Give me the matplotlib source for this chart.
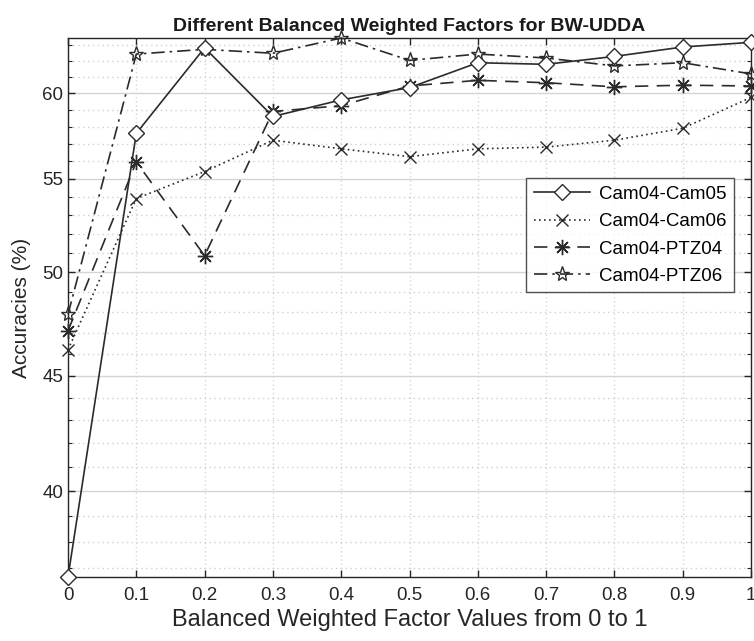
import matplotlib
matplotlib.use("Agg")
import matplotlib.pyplot as plt
from matplotlib.ticker import FixedLocator, NullFormatter, FixedFormatter

plt.rcParams['font.family'] = ['Liberation Sans', 'DejaVu Sans']

x = [0, 0.1, 0.2, 0.3, 0.4, 0.5, 0.6, 0.7, 0.8, 0.9, 1.0]
cam05 = [36.65, 57.6, 62.85, 58.6, 59.6, 60.35, 61.9, 61.8, 62.3, 62.9, 63.2]
cam06 = [46.2, 53.9, 55.4, 57.2, 56.7, 56.25, 56.7, 56.8, 57.2, 57.9, 59.75]
ptz04 = [47.1, 55.95, 50.85, 58.9, 59.25, 60.45, 60.8, 60.65, 60.4, 60.5, 60.45]
ptz06 = [47.9, 62.45, 62.75, 62.5, 63.48, 62.05, 62.45, 62.2, 61.7, 61.9, 61.2]
labels = ['Cam04-Cam05', 'Cam04-Cam06', 'Cam04-PTZ04', 'Cam04-PTZ06']
xticks = [0, 0.1, 0.2, 0.3, 0.4, 0.5, 0.6, 0.7, 0.8, 0.9, 1]
xticklabels = ['0', '0.1', '0.2', '0.3', '0.4', '0.5', '0.6', '0.7', '0.8', '0.9', '1']
yticks = [40, 45, 50, 55, 60]
yminor = list(range(37, 64))

W, H = 754, 641
fig = plt.figure(figsize=(W / 100, H / 100), dpi=100)
ax = fig.add_axes([68 / W, (H - 577) / H, 683 / W, 539 / H])

lc = '#2b2b2b'
common = dict(color=lc, lw=1.2, mec=lc, clip_on=False)
ax.plot(x, cam05, ls='-', marker='D', ms=8, mfc='white', mew=1.0, label=labels[0], zorder=5, **common)
ax.plot(x, cam06, ls=(0, (1, 2)), marker='x', ms=8, mew=1.0, label=labels[1], zorder=4, **common)
ax.plot(x, ptz04, ls=(0, (8, 5)), marker=(8, 2, 0), ms=11, mew=1.0, label=labels[2], zorder=4, **common)
ax.plot(x, ptz06, ls=(0, (8, 3, 1.5, 3)), marker='*', ms=11, mfc='none', mew=1.0, label=labels[3], zorder=4, **common)

ax.set_yscale('log')
ax.set_xlim(0, 1)
ax.set_ylim(36.65, 63.48)
ax.yaxis.set_major_locator(FixedLocator(yticks))
ax.yaxis.set_major_formatter(FixedFormatter([str(v) for v in yticks]))
ax.yaxis.set_minor_locator(FixedLocator(yminor))
ax.yaxis.set_minor_formatter(NullFormatter())
ax.set_xticks(xticks)
ax.set_xticklabels(xticklabels)

ax.grid(True, axis='y', which='major', color='#d4d4d4', ls='-', lw=1.0, zorder=0)
ax.grid(True, axis='y', which='minor', color='#cfcfcf', ls=(0, (1, 2.5)), lw=1.0, zorder=0)
ax.grid(True, axis='x', which='major', color='#d6d6d6', ls=(0, (1, 2)), lw=1.0, zorder=0)

ax.tick_params(which='both', direction='in', top=True, right=True, labelsize=13.5, colors='#262626')
ax.tick_params(which='major', length=5, width=1)
ax.tick_params(which='minor', length=3, width=0.8)
ax.tick_params(axis='x', which='minor', bottom=False, top=False)
ax.tick_params(axis='x', pad=7)
for s in ax.spines.values():
    s.set_color('#262626')
    s.set_linewidth(1.0)

ax.set_xlabel('Balanced Weighted Factor Values from 0 to 1', fontsize=17, color='#262626', labelpad=4)
ax.set_ylabel('Accuracies (%)', fontsize=15, color='#262626', labelpad=8)
ax.set_title('Different Balanced Weighted Factors for BW-UDDA', fontsize=14, fontweight='bold', color='#1a1a1a', pad=5)

leg = ax.legend(loc='upper left', bbox_to_anchor=((526 - 68) / 683, (577 - 178) / 539),
                fontsize=13.5, frameon=True, fancybox=False, edgecolor='#262626',
                handlelength=3.0, handletextpad=0.5, borderpad=0.4, labelspacing=0.55,
                borderaxespad=0)
leg.get_frame().set_linewidth(1.0)

fig.savefig('out.png', dpi=100)
